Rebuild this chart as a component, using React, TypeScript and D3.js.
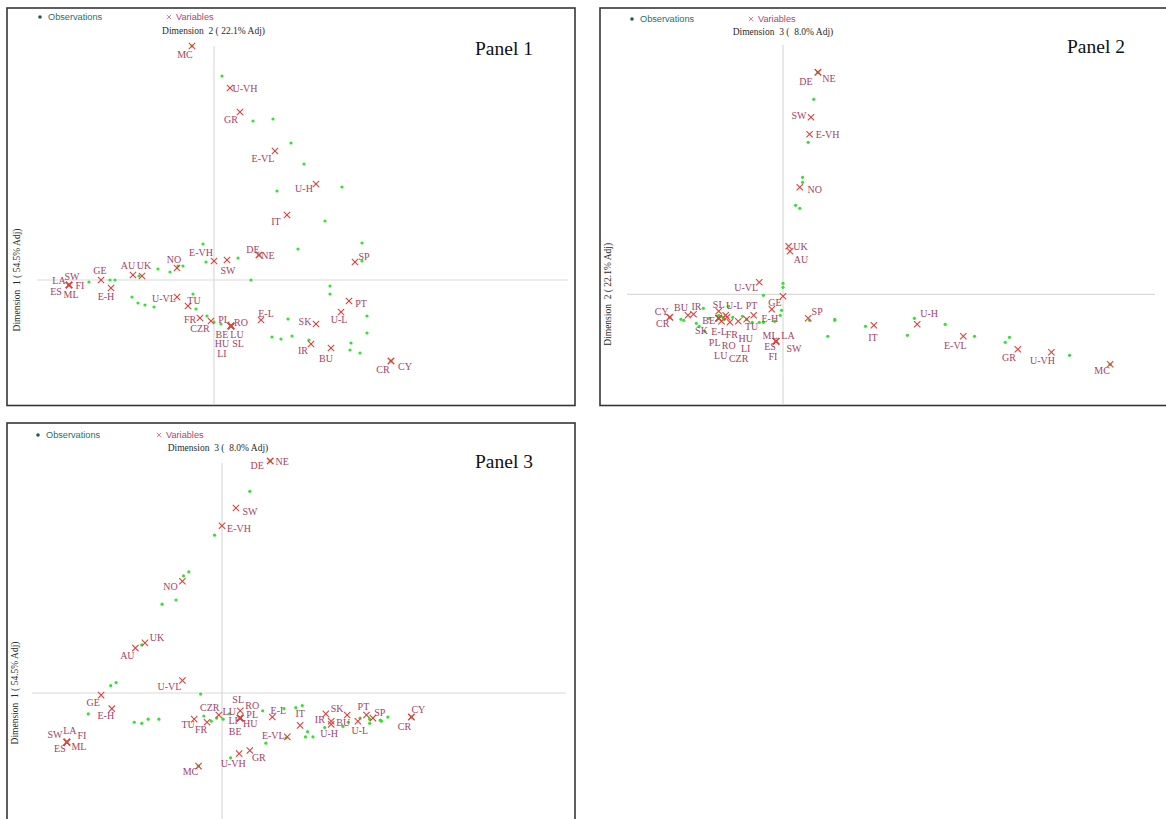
import React, { useEffect, useRef } from "react";
import * as d3 from "d3";

// variable points (CA column coordinates) on dimensions 1, 2, 3
const varNames = ["MC", "U-VH", "GR", "E-VL", "U-H", "IT", "E-VH", "SW", "DE", "NE",
  "NO", "AU", "UK", "GE", "E-H", "LA", "SW", "FI", "ES", "ML",
  "U-VL", "TU", "FR", "CZR", "PL", "RO", "BE", "LU", "HU", "LI",
  "SL", "E-L", "SP", "PT", "U-L", "SK", "IR", "BU", "CR", "CY"];
const dim1 = [-0.22, 0.16, 0.26, 0.61, 1.02, 0.73, 0.0, 0.13, 0.45, 0.45,
  -0.37, -0.81, -0.72, -1.13, -1.03, -1.45, -1.45, -1.45, -1.45, -1.45,
  -0.37, -0.26, -0.14, -0.03, 0.17, 0.17, 0.17, 0.17, 0.17, 0.17,
  0.17, 0.47, 1.41, 1.35, 1.27, 1.02, 0.97, 1.17, 1.77, 1.77];
const dim2 = [2.34, 1.92, 1.68, 1.29, 0.96, 0.65, 0.19, 0.2, 0.25, 0.25,
  0.12, 0.05, 0.04, 0.0, -0.08, -0.05, -0.05, -0.05, -0.05, -0.05,
  -0.17, -0.26, -0.38, -0.41, -0.46, -0.46, -0.46, -0.46, -0.46, -0.46,
  -0.46, -0.4, 0.18, -0.21, -0.32, -0.44, -0.64, -0.68, -0.81, -0.81];
const dim3 = [-0.7, -0.58, -0.55, -0.42, -0.3, -0.31, 1.6, 1.77, 2.22, 2.22,
  1.07, 0.43, 0.48, -0.02, -0.15, -0.47, -0.47, -0.47, -0.47, -0.47,
  0.12, -0.25, -0.28, -0.21, -0.24, -0.24, -0.24, -0.24, -0.24, -0.24,
  -0.17, -0.23, -0.24, -0.21, -0.27, -0.27, -0.2, -0.21, -0.23, -0.23];

// observation points per panel
const obsP1 = [[0.08, 2.04], [0.39, 1.59], [0.59, 1.61], [0.77, 1.37], [0.63, 0.89], [0.9, 1.16],
  [1.28, 0.93], [1.11, 0.59], [0.84, 0.31], [1.48, 0.37], [1.48, 0.19], [-0.11, 0.36], [-0.08, 0.18],
  [0.24, 0.22], [0.37, 0.0], [-0.44, 0.08], [-0.31, 0.14], [-0.56, 0.11], [-0.75, 0.04], [-1.04, 0.0],
  [-0.99, 0.0], [-1.25, -0.02], [-0.82, -0.17], [-0.76, -0.23], [-0.69, -0.25], [-0.6, -0.27],
  [-0.21, -0.14], [-0.18, -0.29], [-0.07, -0.36], [0.0, -0.42], [0.07, -0.44], [0.74, -0.39],
  [0.58, -0.57], [0.67, -0.59], [0.78, -0.56], [1.16, -0.06], [1.16, -0.14], [1.53, -0.36],
  [1.53, -0.53], [0.95, -0.6], [1.37, -0.63], [1.36, -0.7], [1.46, -0.73],
  [-0.22, 2.34], [0.45, 0.25], [-1.45, -0.05], [1.77, -0.81], [0.17, -0.46], [-0.36, 0.14]];
const obsP2 = [[0.22, 1.95], [0.18, 1.52], [0.14, 1.17], [0.14, 1.12], [0.09, 0.89], [0.12, 0.86],
  [0.0, 0.11], [0.0, 0.07], [-0.14, -0.01], [-0.01, -0.16], [-0.02, -0.21], [-0.06, -0.27],
  [-0.17, -0.28], [-0.14, -0.28], [-0.22, -0.28], [0.19, -0.26], [0.37, -0.25], [0.37, -0.26],
  [0.32, -0.42], [-0.73, -0.25], [-0.71, -0.26], [-0.62, -0.29], [-0.6, -0.32], [-0.56, -0.37],
  [-0.57, -0.14], [-0.53, -0.24], [-0.39, -0.12], [-0.36, -0.23], [-0.29, -0.22], [-0.43, -0.23],
  [-0.46, -0.21], [-0.42, -0.25], [-0.26, -0.25], [0.59, -0.32], [0.94, -0.24], [0.89, -0.41],
  [1.16, -0.3], [1.37, -0.42], [1.62, -0.43], [1.59, -0.48], [2.05, -0.61],
  [0.25, 2.22], [2.34, -0.7], [-0.05, -0.47], [-0.81, -0.23]];
const obsP3 = [[0.26, 1.93], [-0.07, 1.51], [-0.31, 1.16], [-0.36, 1.12], [-0.43, 0.89], [-0.56, 0.85],
  [-0.75, 0.46], [-1.04, 0.07], [-0.99, 0.1], [-0.2, -0.01], [-1.25, -0.2], [-0.82, -0.28],
  [-0.75, -0.29], [-0.69, -0.25], [-0.59, -0.25], [-0.17, -0.22], [-0.1, -0.27], [-0.05, -0.24],
  [0.01, -0.25], [0.07, -0.2], [0.38, -0.17], [0.58, -0.15], [0.69, -0.14], [0.6, -0.43],
  [0.41, -0.48], [0.08, -0.62], [0.75, -0.12], [0.8, -0.37], [0.78, -0.42], [0.85, -0.42],
  [0.96, -0.33], [1.13, -0.32], [1.18, -0.28], [1.29, -0.24], [1.38, -0.25], [1.38, -0.29],
  [1.48, -0.26], [1.49, -0.27], [1.55, -0.23],
  [0.45, 2.22], [-1.45, -0.47], [-0.22, -0.7], [1.77, -0.23], [0.17, -0.24]];

const dimTitles = ["Dimension  1 ( 54.5% Adj)", "Dimension  2 ( 22.1% Adj)", "Dimension  3 (  8.0% Adj)"];

// label offsets from the cross, per panel, same order as varNames
const offP1 = [[-7, 8], [15, 0], [-9, 7], [-12, 7], [-12, 4], [-11, 6], [-13, -9], [1, 10], [-6, -6], [9, 0],
  [-3, -9], [-5, -10], [2, -11], [-1, -10], [-5, 8], [-10, -5], [3, -9], [11, 0], [-13, 6], [2, 9],
  [-13, 1], [6, -6], [-10, 1], [-11, 7], [-7, -7], [10, -4], [-9, 8], [6, 8], [-9, 17], [-9, 27],
  [7, 17], [5, -7], [9, -6], [12, 2], [-2, 7], [-11, -3], [-8, 6], [-5, 10], [-8, 8], [14, 5]];
const offP2 = [[-8, 6], [-9, 8], [-9, 8], [-8, 9], [12, -11], [-1, 12], [18, 0], [-12, -2], [-12, 9], [11, 6],
  [15, 2], [11, 8], [12, 0], [-8, 6], [-2, 9], [12, -6], [18, 7], [-3, 15], [-6, 5], [-6, -6],
  [-13, 5], [5, 7], [2, 12], [13, 43], [-4, 24], [10, 27], [-10, 2], [2, 37], [27, 20], [27, 30],
  [0, -7], [-8, 14], [9, -7], [-2, -10], [-4, -16], [-20, 9], [3, -8], [-7, -8], [-7, 6], [-8, -6]];
const offP3 = [[-8, 5], [-6, 10], [9, 7], [-14, -1], [-2, 9], [0, -12], [17, 3], [14, 3], [-13, 4], [12, 0],
  [-12, 5], [-8, 7], [12, -5], [-8, 7], [-6, 7], [3, -12], [-12, -8], [15, -7], [-7, 6], [12, 4],
  [-13, 6], [-6, 5], [-6, 7], [-9, -7], [12, -4], [12, -13], [-5, 13], [-11, -7], [10, 5], [-7, 2],
  [-2, -11], [6, -7], [7, -6], [-3, -8], [2, 9], [6, -13], [-6, 6], [-4, 8], [-7, 9], [7, -8]];

const panels = [
  { label: "Panel 1", box: [7, 8, 568, 397.5], xDim: 0, yDim: 1, obs: obsP1, offsets: offP1,
    xDomain: [-1.77, 3.54], xRange: [37, 568], yDomain: [2.34, -1.26], yRange: [46, 406],
    legendY: 17, dotX: 40, crossX: 169, titleX: 213.5, titleY: 31, yLabelX: 17, panelX: 475, panelY: 54.5 },
  { label: "Panel 2", box: [600, 8, 580, 397.5], xDim: 1, yDim: 2, obs: obsP2, offsets: offP2,
    xDomain: [-1.116, 2.661], xRange: [627, 1155], yDomain: [2.493, -1.107], yRange: [45, 405],
    legendY: 19, dotX: 632, crossX: 751, titleX: 783, titleY: 32, yLabelX: 608, panelX: 1067, panelY: 52.5 },
  { label: "Panel 3", box: [7, 423, 568, 410], xDim: 0, yDim: 2, obs: obsP3, offsets: offP3,
    xDomain: [-1.776, 3.215], xRange: [32, 566], yDomain: [2.201, -1.244], yRange: [463, 823],
    legendY: 435, dotX: 38, crossX: 159, titleX: 218, titleY: 448, yLabelX: 15, panelX: 475, panelY: 467.5 },
];

const GREEN = "#2fe32f";
const RED = "#e2403c";
const LABEL = "#a53f68";
const SERIF = "'Liberation Serif', 'Times New Roman', serif";
const SANS = "'Liberation Sans', Arial, sans-serif";

const App = () => {
  const svgRef = useRef<SVGSVGElement>(null);

  useEffect(() => {
    const svg = d3.select(svgRef.current);
    svg.selectAll("*").remove();
    const dims = [dim1, dim2, dim3];

    panels.forEach((p) => {
      const g = svg.append("g");
      const x = d3.scaleLinear().domain(p.xDomain).range(p.xRange);
      const y = d3.scaleLinear().domain(p.yDomain).range(p.yRange);
      const xs = dims[p.xDim];
      const ys = dims[p.yDim];

      g.append("rect")
        .attr("x", p.box[0]).attr("y", p.box[1])
        .attr("width", p.box[2]).attr("height", p.box[3])
        .attr("fill", "white").attr("stroke", "#363636").attr("stroke-width", 1.6);

      // zero lines
      g.append("line")
        .attr("x1", p.xRange[0]).attr("x2", p.xRange[1])
        .attr("y1", y(0)).attr("y2", y(0))
        .attr("stroke", "#dadada").attr("stroke-width", 1.2);
      g.append("line")
        .attr("x1", x(0)).attr("x2", x(0))
        .attr("y1", p.yRange[0]).attr("y2", Math.min(p.yRange[1], p.box[1] + p.box[3] - 1))
        .attr("stroke", "#dadada").attr("stroke-width", 1.2);

      g.selectAll("circle.obs")
        .data(p.obs)
        .enter()
        .append("circle")
        .attr("cx", (d) => x(d[0]))
        .attr("cy", (d) => y(d[1]))
        .attr("r", 1.6)
        .attr("fill", GREEN);

      const cross = d3.symbol().type(d3.symbolX).size(28);
      g.selectAll("path.var")
        .data(varNames)
        .enter()
        .append("path")
        .attr("d", cross)
        .attr("transform", (d, i) => `translate(${x(xs[i])},${y(ys[i])})`)
        .attr("fill", "none")
        .attr("stroke", RED)
        .attr("stroke-width", 1.1);

      g.selectAll("text.var")
        .data(varNames)
        .enter()
        .append("text")
        .attr("x", (d, i) => x(xs[i]) + p.offsets[i][0])
        .attr("y", (d, i) => y(ys[i]) + p.offsets[i][1])
        .attr("dy", "0.35em")
        .attr("text-anchor", "middle")
        .attr("font-family", SERIF)
        .attr("font-size", 10)
        .attr("fill", LABEL)
        .text((d) => d);

      // legend
      g.append("circle").attr("cx", p.dotX).attr("cy", p.legendY).attr("r", 1.8).attr("fill", "#1f5e4f");
      g.append("text")
        .attr("x", p.dotX + 8).attr("y", p.legendY).attr("dy", "0.35em")
        .attr("font-family", SANS).attr("font-size", 9.2).attr("fill", "#2e6d60")
        .text("Observations");
      g.append("path")
        .attr("d", d3.symbol().type(d3.symbolX).size(14)())
        .attr("transform", `translate(${p.crossX},${p.legendY})`)
        .attr("stroke", "#d8728e").attr("stroke-width", 0.9).attr("fill", "none");
      g.append("text")
        .attr("x", p.crossX + 7).attr("y", p.legendY).attr("dy", "0.35em")
        .attr("font-family", SANS).attr("font-size", 9.2).attr("fill", "#b0456c")
        .text("Variables");

      // axis titles
      g.append("text")
        .attr("x", p.titleX).attr("y", p.titleY).attr("dy", "0.35em")
        .attr("text-anchor", "middle")
        .attr("font-family", SERIF).attr("font-size", 9.5).attr("fill", "#2b2b2b")
        .style("white-space", "pre")
        .text(dimTitles[p.yDim]);
      g.append("text")
        .attr("transform", `translate(${p.yLabelX},${y(0)}) rotate(-90)`)
        .attr("dy", "0.35em")
        .attr("text-anchor", "middle")
        .attr("font-family", SERIF).attr("font-size", 9.5).attr("fill", "#2b2b2b")
        .style("white-space", "pre")
        .text(dimTitles[p.xDim]);

      g.append("text")
        .attr("x", p.panelX).attr("y", p.panelY)
        .attr("font-family", SERIF).attr("font-size", 19.5).attr("fill", "#111")
        .text(p.label);
    });
  }, []);

  return (
    <svg
      ref={svgRef}
      width={1166}
      height={819}
      style={{ position: "absolute", left: 0, top: 0, background: "white" }}
    />
  );
};

export default App;
